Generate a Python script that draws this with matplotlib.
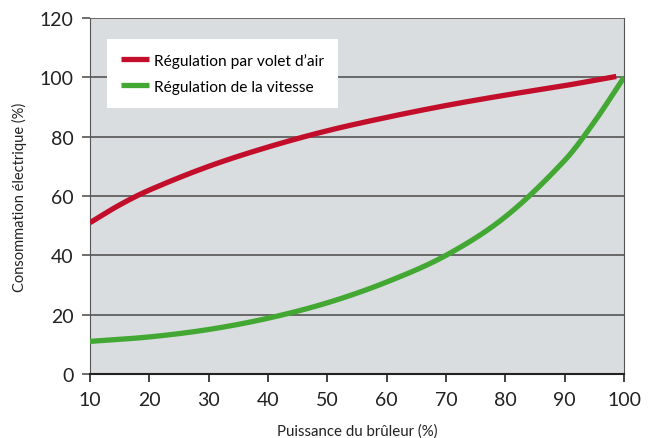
import matplotlib
matplotlib.use("Agg")
import matplotlib.pyplot as plt
import numpy as np

plt.rcParams['font.family'] = ['Lato', 'DejaVu Sans']

x_red = [10, 15, 20, 30, 40, 50, 60, 70, 80, 90, 98.7]
y_red = [51, 57, 62, 70, 76.5, 82, 86.5, 90.5, 94, 97.2, 100.3]
x_green = [10, 20, 30, 40, 50, 60, 70, 80, 90, 95, 100]
y_green = [11, 12.5, 15, 18.8, 24, 31, 40, 53, 72, 85, 100]
label_red = "Régulation par volet d\u2019air"
label_green = "Régulation de la vitesse"
xticks = [10, 20, 30, 40, 50, 60, 70, 80, 90, 100]
yticks = [0, 20, 40, 60, 80, 100, 120]

fig = plt.figure(figsize=(6.54, 4.39), dpi=100)
ax = fig.add_axes([90/654, 64/439, 534/654, 356/439])
ax.set_facecolor('#d9dde0')

def smooth(xs, ys):
    xs = np.asarray(xs, float); ys = np.asarray(ys, float)
    xx = np.linspace(xs[0], xs[-1], 300)
    yy = np.interp(xx, xs, ys)
    n = len(xs)
    m = np.zeros(n)
    for i in range(n):
        if i == 0:
            m[i] = (ys[1]-ys[0])/(xs[1]-xs[0])
        elif i == n-1:
            m[i] = (ys[-1]-ys[-2])/(xs[-1]-xs[-2])
        else:
            m[i] = (ys[i+1]-ys[i-1])/(xs[i+1]-xs[i-1])
    for i in range(n-1):
        sel = (xx >= xs[i]) & (xx <= xs[i+1])
        h = xs[i+1]-xs[i]
        t = (xx[sel]-xs[i])/h
        h00 = 2*t**3-3*t**2+1; h10 = t**3-2*t**2+t
        h01 = -2*t**3+3*t**2; h11 = t**3-t**2
        yy[sel] = h00*ys[i]+h10*h*m[i]+h01*ys[i+1]+h11*h*m[i+1]
    return xx, yy

for yv in yticks:
    ax.axhline(yv, color='#555555', lw=1.2, zorder=1)

xr, yr = smooth(x_red, y_red)
xg, yg = smooth(x_green, y_green)
ax.plot(xr, yr, color='#c20e2a', lw=3.8, label=label_red, zorder=3, solid_capstyle='butt')
ax.plot(xg, yg, color='#43a833', lw=3.8, label=label_green, zorder=3, solid_capstyle='butt')

ax.set_xlim(10, 100)
ax.set_ylim(0, 120)
ax.set_xticks(xticks)
ax.set_yticks(yticks)
ax.spines['top'].set_visible(False)
ax.spines['left'].set_color('#555555')
ax.spines['right'].set_color('#555555')
ax.spines['bottom'].set_color('#222222')
ax.spines['bottom'].set_linewidth(1.5)
ax.tick_params(axis='both', labelsize=14, colors='#222222', length=6, width=1.2, pad=6)
ax.tick_params(axis='y', color='#555555')
ax.set_xlabel("Puissance du brûleur (%)", fontsize=10.8, color='#222222', labelpad=11)
ax.set_ylabel("Consommation électrique (%)", fontsize=10.5, color='#222222', labelpad=9)

leg = ax.legend(loc='upper left', bbox_to_anchor=(17/534, 1-21/356), fontsize=11.2,
                frameon=True, fancybox=False, framealpha=1, edgecolor='white',
                handlelength=1.8, handletextpad=0.3, labelspacing=0.75,
                borderpad=0.9, borderaxespad=0)
leg.get_frame().set_linewidth(0)

fig.savefig('out.png', dpi=100)
